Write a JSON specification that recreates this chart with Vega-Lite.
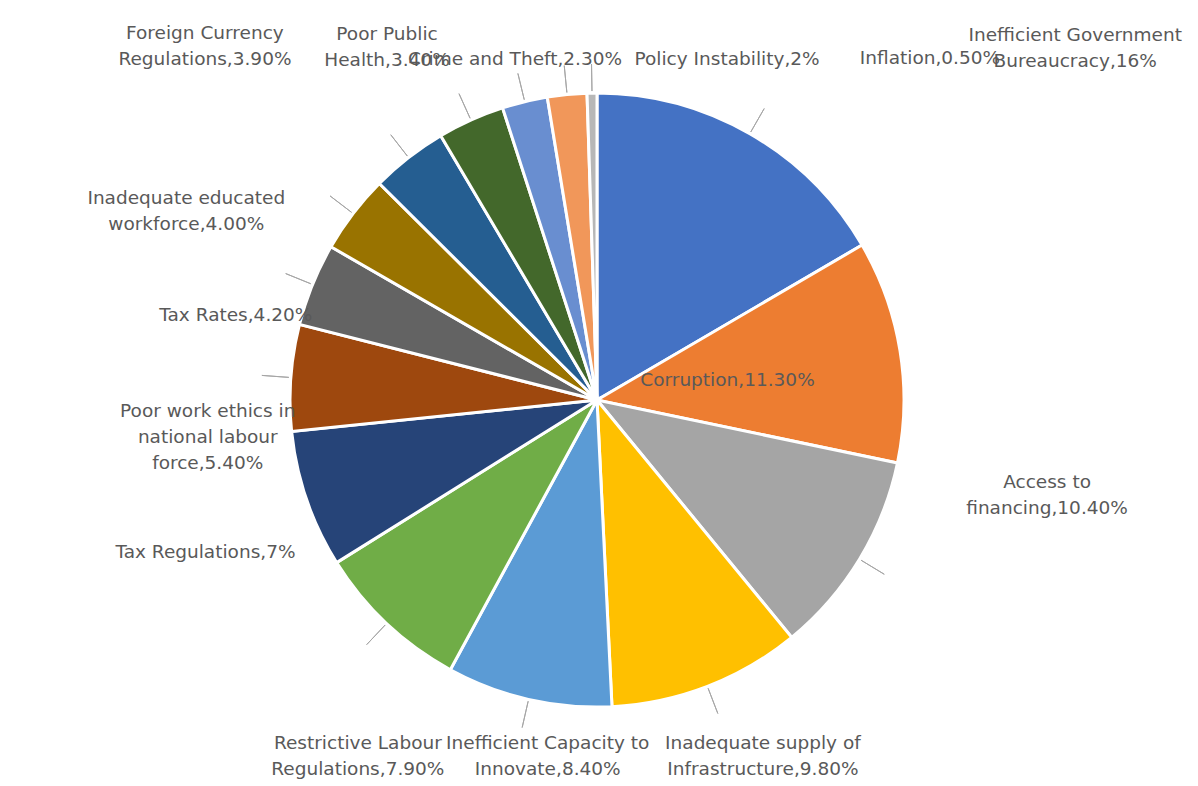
{
  "$schema": "https://vega.github.io/schema/vega-lite/v6.json",
  "width": 1180,
  "height": 782,
  "autosize": "none",
  "padding": {"left": 7, "top": 9, "right": 0, "bottom": 0},
  "background": "white",
  "config": {
    "view": {"stroke": "#D9D9D9"},
    "text": {"font": "DejaVu Sans", "fontSize": 18.5, "fill": "#595959", "align": "center", "baseline": "middle", "lineBreak": "\n", "lineHeight": 26}
  },
  "data": {
    "values": [
      {"category": "Inefficient Government Bureaucracy", "value": 16, "label": "Inefficient Government\nBureaucracy,16%"},
      {"category": "Corruption", "value": 11.3, "label": "Corruption,11.30%"},
      {"category": "Access to financing", "value": 10.4, "label": "Access to\nfinancing,10.40%"},
      {"category": "Inadequate supply of Infrastructure", "value": 9.8, "label": "Inadequate supply of\nInfrastructure,9.80%"},
      {"category": "Inefficient Capacity to Innovate", "value": 8.4, "label": "Inefficient Capacity to\nInnovate,8.40%"},
      {"category": "Restrictive Labour Regulations", "value": 7.9, "label": "Restrictive Labour\nRegulations,7.90%"},
      {"category": "Tax Regulations", "value": 7, "label": "Tax Regulations,7%"},
      {"category": "Poor work ethics in national labour force", "value": 5.4, "label": "Poor work ethics in\nnational labour\nforce,5.40%"},
      {"category": "Tax Rates", "value": 4.2, "label": "Tax Rates,4.20%"},
      {"category": "Inadequate educated workforce", "value": 4.0, "label": "Inadequate educated\nworkforce,4.00%"},
      {"category": "Foreign Currency Regulations", "value": 3.9, "label": "Foreign Currency\nRegulations,3.90%"},
      {"category": "Poor Public Health", "value": 3.4, "label": "Poor Public\nHealth,3.40%"},
      {"category": "Crime and Theft", "value": 2.3, "label": "Crime and Theft,2.30%"},
      {"category": "Policy Instability", "value": 2, "label": "Policy Instability,2%"},
      {"category": "Inflation", "value": 0.5, "label": "Inflation,0.50%"}
    ]
  },
  "encoding": {
    "theta": {"field": "value", "type": "quantitative", "stack": true},
    "order": {"field": "value", "type": "quantitative", "sort": "descending"},
    "detail": {"field": "category", "type": "nominal"}
  },
  "layer": [
    {
      "mark": {"type": "arc", "radius": 307, "stroke": "white", "strokeWidth": 3},
      "encoding": {
        "color": {
          "field": "category", "type": "nominal", "legend": null,
          "scale": {
            "domain": ["Inefficient Government Bureaucracy", "Corruption", "Access to financing", "Inadequate supply of Infrastructure", "Inefficient Capacity to Innovate", "Restrictive Labour Regulations", "Tax Regulations", "Poor work ethics in national labour force", "Tax Rates", "Inadequate educated workforce", "Foreign Currency Regulations", "Poor Public Health", "Crime and Theft", "Policy Instability", "Inflation"],
            "range": ["#4472C4", "#ED7D31", "#A5A5A5", "#FFC000", "#5B9BD5", "#70AD47", "#264478", "#9E480E", "#636363", "#997300", "#255E91", "#43682B", "#698ED0", "#F1975A", "#B7B7B7"]
          }
        }
      }
    },
    {
      "mark": {"type": "arc", "radius": 336, "radius2": 309, "padAngle": 3, "fillOpacity": 0, "stroke": "#A6A6A6", "strokeWidth": 1},
      "encoding": {
        "strokeOpacity": {"condition": {"test": "datum.category === 'Corruption' || datum.category === 'Tax Regulations'", "value": 0}, "value": 1}
      }
    },
    {"mark": {"type": "text", "radius": 594, "thetaOffset": 0.415, "dy": -13, "clip": true},
     "encoding": {"text": {"condition": {"test": "datum.category === 'Inefficient Government Bureaucracy'", "field": "label", "type": "nominal"}, "value": ""}}},
    {"mark": {"type": "text", "radius": 132, "thetaOffset": 0.009},
     "encoding": {"text": {"condition": {"test": "datum.category === 'Corruption'", "field": "label", "type": "nominal"}, "value": ""}}},
    {"mark": {"type": "text", "radius": 460, "thetaOffset": -0.337, "dy": -13},
     "encoding": {"text": {"condition": {"test": "datum.category === 'Access to financing'", "field": "label", "type": "nominal"}, "value": ""}}},
    {"mark": {"type": "text", "radius": 393, "thetaOffset": -0.068, "dy": -13},
     "encoding": {"text": {"condition": {"test": "datum.category === 'Inadequate supply of Infrastructure'", "field": "label", "type": "nominal"}, "value": ""}}},
    {"mark": {"type": "text", "radius": 359, "thetaOffset": -0.087, "dy": -13},
     "encoding": {"text": {"condition": {"test": "datum.category === 'Inefficient Capacity to Innovate'", "field": "label", "type": "nominal"}, "value": ""}}},
    {"mark": {"type": "text", "radius": 429, "thetaOffset": -0.164, "dy": -13},
     "encoding": {"text": {"condition": {"test": "datum.category === 'Restrictive Labour Regulations'", "field": "label", "type": "nominal"}, "value": ""}}},
    {"mark": {"type": "text", "radius": 420, "thetaOffset": -0.04},
     "encoding": {"text": {"condition": {"test": "datum.category === 'Tax Regulations'", "field": "label", "type": "nominal"}, "value": ""}}},
    {"mark": {"type": "text", "radius": 391, "thetaOffset": -0.168, "dy": -26},
     "encoding": {"text": {"condition": {"test": "datum.category === 'Poor work ethics in national labour force'", "field": "label", "type": "nominal"}, "value": ""}}},
    {"mark": {"type": "text", "radius": 371, "thetaOffset": -0.155},
     "encoding": {"text": {"condition": {"test": "datum.category === 'Tax Rates'", "field": "label", "type": "nominal"}, "value": ""}}},
    {"mark": {"type": "text", "radius": 452, "thetaOffset": -0.222, "dy": -13},
     "encoding": {"text": {"condition": {"test": "datum.category === 'Inadequate educated workforce'", "field": "label", "type": "nominal"}, "value": ""}}},
    {"mark": {"type": "text", "radius": 528, "thetaOffset": -0.176, "dy": -13},
     "encoding": {"text": {"condition": {"test": "datum.category === 'Foreign Currency Regulations'", "field": "label", "type": "nominal"}, "value": ""}}},
    {"mark": {"type": "text", "radius": 411, "thetaOffset": -0.113, "dy": -13},
     "encoding": {"text": {"condition": {"test": "datum.category === 'Poor Public Health'", "field": "label", "type": "nominal"}, "value": ""}}},
    {"mark": {"type": "text", "radius": 351, "thetaOffset": 0.002},
     "encoding": {"text": {"condition": {"test": "datum.category === 'Crime and Theft'", "field": "label", "type": "nominal"}, "value": ""}}},
    {"mark": {"type": "text", "radius": 365, "thetaOffset": 0.462},
     "encoding": {"text": {"condition": {"test": "datum.category === 'Policy Instability'", "field": "label", "type": "nominal"}, "value": ""}}},
    {"mark": {"type": "text", "radius": 477, "thetaOffset": 0.789},
     "encoding": {"text": {"condition": {"test": "datum.category === 'Inflation'", "field": "label", "type": "nominal"}, "value": ""}}}
  ]
}
